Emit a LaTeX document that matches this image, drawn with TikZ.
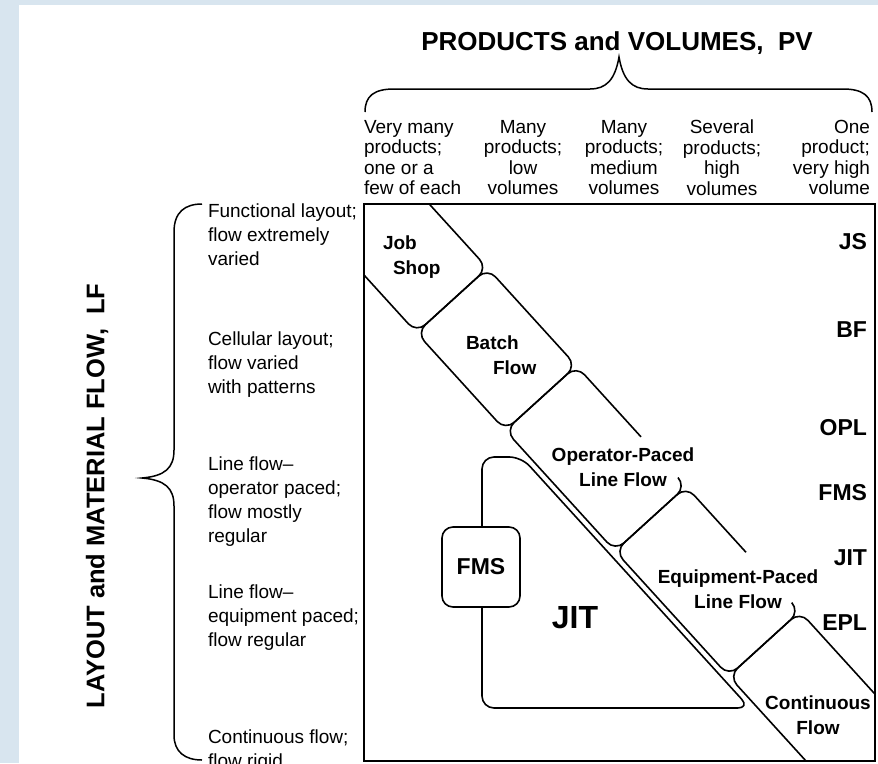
\documentclass[tikz,border=0pt]{standalone}
\usepackage{fontspec}
\setmainfont{Liberation Sans}
\definecolor{frameblue}{RGB}{216,229,239}

\begin{document}
\begin{tikzpicture}[x=1pt, y=-1pt,
    every node/.style={inner sep=0pt, outer sep=0pt},
    txt/.style={font=\fontsize{19}{24}\selectfont, align=left, anchor=north west},
    hdr/.style={font=\fontsize{19}{20.5}\selectfont, anchor=north},
    stage/.style={font=\bfseries\fontsize{19}{25}\selectfont},
    tag/.style={font=\bfseries\fontsize{23}{25}\selectfont, anchor=east},
    heading/.style={font=\bfseries\fontsize{26}{30}\selectfont},
    band/.style={line width=1.6pt, rounded corners=12pt}]
    \useasboundingbox (0,0) rectangle (878,763);
    \fill[frameblue] (0,0) rectangle (878,763);
    \fill[white] (19,5) rectangle (878,763);

    % axis headings and braces
    \node[heading] (pv) at (617,43) {PRODUCTS and VOLUMES,\ \ PV};
    \node[heading, font=\bfseries\fontsize{25.5}{30}\selectfont, rotate=90] (lf) at (97,496) {LAYOUT and MATERIAL FLOW,\ \ LF};
    \draw[line width=1.5pt] (365,112) .. controls (365,96) and (374,89) .. (394,89) -- (590,89)
        .. controls (606,89) and (615,80) .. (619,57) .. controls (623,80) and (632,89) .. (648,89)
        -- (843,89) .. controls (863,89) and (872,96) .. (872,112);
    \draw[line width=1.5pt] (202,204) .. controls (185,204) and (174,212) .. (174,232) -- (174,450)
        .. controls (174,468) and (165,476) .. (142,478) .. controls (165,480) and (174,488) .. (174,506)
        -- (174,735) .. controls (174,752) and (185,760) .. (202,760);

    % products and volumes
    \node[hdr, anchor=north west, align=left] (pv1) at (364,120) {Very many\\products;\\one or a\\few of each};
    \node[hdr, align=center] (pv2) at (523,120) {Many\\products;\\low\\volumes};
    \node[hdr, align=center] (pv3) at (624,120) {Many\\products;\\medium\\volumes};
    \node[hdr, align=center] (pv4) at (722,120) {Several\\products;\\high\\volumes};
    \node[hdr, anchor=north east, align=right] (pv5) at (870,120) {One\\product;\\very high\\volume};

    % layout and material flow
    \node[txt] (lf1) at (208,204) {Functional layout;\\flow extremely\\varied};
    \node[txt] (lf2) at (208,332) {Cellular layout;\\flow varied\\with patterns};
    \node[txt] (lf3) at (208,457) {Line flow–\\operator paced;\\flow mostly\\regular};
    \node[txt] (lf4) at (208,585) {Line flow–\\equipment paced;\\flow regular};
    \node[txt] (lf5) at (208,730) {Continuous flow;\\flow rigid};

    % matrix frame
    \draw[line width=2.2pt] (364,204) rectangle (875,761);

    % diagonal band of process stages
    \begin{scope}
        \clip (364,204) rectangle (875,761);
        \begin{scope}[shift={(364,275)}, x={(0.673pt,-0.740pt)}, y={(0.740pt,0.673pt)}, band]
            \draw (-80,0) -- (78,0) -- (78,96) -- (-80,96);
            \draw (144,0) -- (210,0) -- (210,96) -- (78,96) -- (78,0) -- (144,0);
            \draw (210,48) -- (210,96) -- (306,96);
            \draw (210,48) -- (210,0) -- (373,0) -- (373,96) -- (361,96);
            \draw (373,48) -- (373,96) -- (462,96);
            \draw (373,48) -- (373,0) -- (542,0) -- (542,96) -- (530,96);
            \draw (542,48) -- (542,96) -- (700,96);
            \draw (542,48) -- (542,0) -- (700,0);
        \end{scope}
    \end{scope}

    % JIT region with FMS cell
    \draw[band] (482,457) -- (521.4,457) -- (749.7,708) -- (482,708) -- cycle;
    \node[draw, fill=white, line width=1.6pt, rounded corners=11pt, minimum width=78pt, minimum height=80pt,
        font=\bfseries\fontsize{23}{25}\selectfont] (fms) at (481,567) {FMS};
    \node[font=\bfseries\fontsize{32}{34}\selectfont] (jit) at (575,618) {JIT};

    % stage labels
    \node[stage, align=left, anchor=north west] (js) at (383,236) {Job\\\hspace*{10pt}Shop};
    \node[stage, align=left, anchor=north west] (bf) at (466,336) {Batch\\\hspace*{27pt}Flow};
    \node[stage, align=center, anchor=north] (opl) at (623,448) {Operator-Paced\\Line Flow};
    \node[stage, align=center, anchor=north] (epl) at (738,570) {Equipment-Paced\\Line Flow};
    \node[stage, align=center, anchor=north] (cf) at (818,696) {Continuous\\Flow};

    % abbreviations
    \node[tag] (tjs) at (867,242) {JS};
    \node[tag] (tbf) at (867,330) {BF};
    \node[tag] (topl) at (867,428) {OPL};
    \node[tag] (tfms) at (867,493) {FMS};
    \node[tag] (tjit) at (867,558) {JIT};
    \node[tag] (tepl) at (867,623) {EPL};
\end{tikzpicture}
\end{document}
